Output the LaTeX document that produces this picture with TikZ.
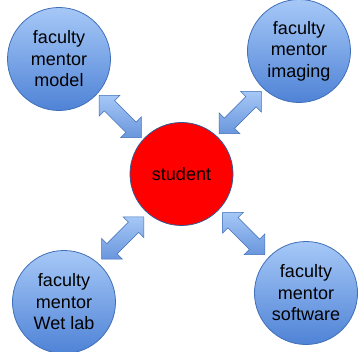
\documentclass[tikz,border=0pt]{standalone}
\usepackage{fontspec}
\setmainfont{Liberation Sans}
\usetikzlibrary{shapes.arrows,calc}
\definecolor{mentorTop}{HTML}{A6C8F7}
\definecolor{mentorBot}{HTML}{4F83D6}
\definecolor{mentorLine}{HTML}{4170B8}
\tikzset{
  mentor/.style={circle, minimum size=103pt, inner sep=0pt, draw=mentorLine, line width=0.8pt,
    top color=mentorTop, bottom color=mentorBot, align=center, font=\fontsize{18}{21.5}\selectfont},
  link/.style={double arrow, minimum height=60pt, inner xsep=0pt, inner ysep=7pt,
    double arrow head extend=7.5pt, double arrow head indent=0pt,
    draw=mentorLine, line width=0.5pt, top color=mentorTop, bottom color=mentorBot!85!white}
}
\begin{document}
\begin{tikzpicture}[x=1pt,y=-1pt]
\useasboundingbox (0,0) rectangle (358,352);
\node[circle, minimum size=103pt, inner sep=0pt, fill=red, draw=mentorLine!80!black, line width=0.8pt,
  font=\fontsize{18}{21.5}\selectfont] (student) at (181.5,174) {student};
\node[mentor] (model) at (59,59) {faculty\\mentor\\model};
\node[mentor] (imaging) at (299,51) {faculty\\mentor\\imaging};
\node[mentor] (wetlab) at (64,302) {faculty\\mentor\\Wet lab};
\node[mentor] (software) at (306,293) {faculty\\mentor\\software};
\node[link, rotate=-45] (l1) at ($(model)!0.5!(student)$) {};
\node[link, rotate=45] (l2) at ($(imaging)!0.5!(student)$) {};
\node[link, rotate=45] (l3) at ($(wetlab)!0.5!(student)$) {};
\node[link, rotate=-45] (l4) at ($(software)!0.5!(student)$) {};
\end{tikzpicture}
\end{document}
